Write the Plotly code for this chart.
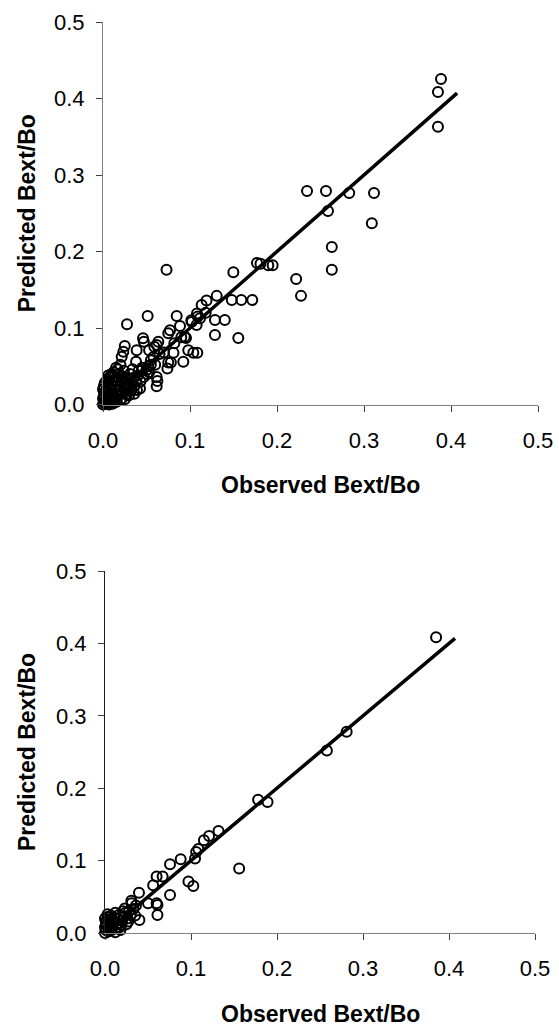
import plotly.graph_objects as go

# ---- Top panel: all observations ----
obs_top = [
    0.3885, 0.385, 0.385, 0.2345, 0.2563, 0.283, 0.3115, 0.2586, 0.309, 0.263, 0.263,
    0.222, 0.2276, 0.177, 0.181, 0.19, 0.195, 0.1498, 0.073,
    0.1307, 0.119, 0.1134, 0.148, 0.159, 0.1716, 0.1287, 0.140, 0.1287, 0.1555,
    0.102, 0.1076, 0.109, 0.0885, 0.0954, 0.077, 0.075, 0.098, 0.1038, 0.1084,
    0.0923, 0.081, 0.074, 0.075, 0.046, 0.047, 0.0617, 0.0636, 0.053, 0.0387,
    0.0617, 0.0617, 0.0625, 0.0425, 0.025, 0.0234, 0.0215, 0.038, 0.0276, 0.0513,
    0.0847, 0.059, 0.051, 0.108, 0.1015, 0.1115, 0.094,
    0.045, 0.055, 0.065, 0.070, 0.082, 0.090, 0.118, 0.078,
    0.0, 0.001, 0.002, 0.0, 0.001, 0.002, 0.0, 0.001, 0.002, 0.003, 0.004, 0.005,
    0.004, 0.005, 0.006, 0.007, 0.006, 0.008, 0.009, 0.010, 0.011, 0.009, 0.010,
    0.012, 0.012, 0.014, 0.015, 0.016, 0.014, 0.013, 0.016, 0.018, 0.019, 0.020,
    0.018, 0.021, 0.022, 0.023, 0.024, 0.025, 0.026, 0.024, 0.027, 0.028, 0.030,
    0.029, 0.031, 0.032, 0.033, 0.035, 0.034, 0.036, 0.038, 0.040, 0.041, 0.039,
    0.043, 0.045, 0.047, 0.050, 0.052, 0.055, 0.053, 0.058, 0.060, 0.015, 0.020,
    0.012, 0.008, 0.005, 0.003, 0.007, 0.011, 0.016, 0.020, 0.025, 0.030, 0.036,
    0.006, 0.010, 0.017, 0.022, 0.028, 0.033, 0.004, 0.009, 0.014,
]
pred_top = [
    0.4255, 0.4085, 0.363, 0.279, 0.279, 0.2765, 0.2765, 0.253, 0.237, 0.206, 0.176,
    0.164, 0.142, 0.185, 0.184, 0.182, 0.182, 0.173, 0.176,
    0.142, 0.136, 0.130, 0.1366, 0.1366, 0.1366, 0.1105, 0.1105, 0.091, 0.087,
    0.108, 0.104, 0.115, 0.1026, 0.087, 0.097, 0.093, 0.071, 0.0677, 0.0677,
    0.056, 0.0677, 0.047, 0.055, 0.0865, 0.082, 0.0778, 0.082, 0.071, 0.071,
    0.036, 0.024, 0.0307, 0.021, 0.0765, 0.069, 0.0625, 0.056, 0.105, 0.1157,
    0.1157, 0.0756, 0.040, 0.119, 0.110, 0.1127, 0.0886,
    0.045, 0.052, 0.066, 0.068, 0.080, 0.088, 0.120, 0.055,
    0.0, 0.002, 0.005, 0.008, 0.012, 0.016, 0.020, 0.024, 0.028, 0.003, 0.008, 0.012,
    0.018, 0.022, 0.026, 0.030, 0.004, 0.007, 0.002, 0.010, 0.015, 0.020, 0.025,
    0.032, 0.005, 0.009, 0.014, 0.019, 0.024, 0.036, 0.030, 0.012, 0.018, 0.024,
    0.040, 0.031, 0.008, 0.016, 0.021, 0.027, 0.035, 0.044, 0.013, 0.020, 0.025,
    0.032, 0.040, 0.018, 0.028, 0.035, 0.046, 0.024, 0.030, 0.038, 0.044, 0.019,
    0.030, 0.048, 0.036, 0.045, 0.050, 0.058, 0.042, 0.062, 0.052, 0.048, 0.052,
    0.042, 0.036, 0.033, 0.001, 0.000, 0.001, 0.004, 0.006, 0.007, 0.012, 0.014,
    0.038, 0.040, 0.046, 0.037, 0.022, 0.020, 0.015, 0.018, 0.003,
]

# ---- Bottom panel: subset ----
obs_bot = [
    0.385, 0.281, 0.258, 0.178, 0.189, 0.132, 0.121, 0.115, 0.1085, 0.106, 0.1047,
    0.156, 0.088, 0.0756, 0.097, 0.1027, 0.0756, 0.060, 0.067, 0.056, 0.061, 0.061,
    0.0395, 0.050, 0.040, 0.031, 0.023, 0.0306, 0.060,
    0.0, 0.001, 0.0, 0.002, 0.001, 0.0, 0.003, 0.004, 0.005, 0.006, 0.005, 0.007,
    0.008, 0.009, 0.010, 0.011, 0.012, 0.013, 0.014, 0.015, 0.016, 0.018, 0.019,
    0.020, 0.022, 0.024, 0.026, 0.028, 0.030, 0.033, 0.036, 0.035, 0.025, 0.012,
    0.008, 0.003, 0.017, 0.021, 0.027,
]
pred_bot = [
    0.4085, 0.278, 0.252, 0.184, 0.181, 0.141, 0.134, 0.128, 0.116, 0.112, 0.103,
    0.089, 0.102, 0.095, 0.071, 0.065, 0.0525, 0.078, 0.078, 0.066, 0.0387, 0.025,
    0.0557, 0.041, 0.018, 0.041, 0.034, 0.0446, 0.041,
    0.0, 0.004, 0.008, 0.012, 0.016, 0.020, 0.022, 0.002, 0.007, 0.013, 0.018, 0.024,
    0.004, 0.010, 0.016, 0.021, 0.001, 0.007, 0.013, 0.019, 0.025, 0.004, 0.011,
    0.017, 0.023, 0.028, 0.020, 0.030, 0.026, 0.033, 0.038, 0.024, 0.012, 0.028,
    0.020, 0.026, 0.008, 0.030, 0.016,
]

line_x = [0.0, 0.407]
line_y = [0.0, 0.407]

tick_vals = [0.0, 0.1, 0.2, 0.3, 0.4, 0.5]
tick_text = ["0.0", "0.1", "0.2", "0.3", "0.4", "0.5"]

x_title = "Observed Bext/Bo"
y_title = "Predicted Bext/Bo"

FONT = "Liberation Sans, Arial, sans-serif"
W, H = 559, 1026

fig = go.Figure()

marker = dict(symbol="circle-open", size=10, color="black", line=dict(width=2, color="black"))

fig.add_trace(go.Scatter(x=obs_top, y=pred_top, mode="markers", marker=marker,
                         xaxis="x", yaxis="y", cliponaxis=False, showlegend=False))
fig.add_trace(go.Scatter(x=line_x, y=line_y, mode="lines", line=dict(color="black", width=3.5),
                         xaxis="x", yaxis="y", cliponaxis=False, showlegend=False))
fig.add_trace(go.Scatter(x=obs_bot, y=pred_bot, mode="markers", marker=marker,
                         xaxis="x2", yaxis="y2", cliponaxis=False, showlegend=False))
fig.add_trace(go.Scatter(x=line_x, y=line_y, mode="lines", line=dict(color="black", width=3.5),
                         xaxis="x2", yaxis="y2", cliponaxis=False, showlegend=False))

def px_x(p):
    return p / W

def px_y(p):
    return 1 - p / H

axis_common = dict(range=[0, 0.5], tickvals=tick_vals, ticktext=tick_text,
                   showgrid=False, zeroline=False, showline=True, ticks="outside",
                   ticklen=6, tickwidth=1, tickcolor="#404040", automargin=False,
                   ticklabeloverflow="allow",
                   tickfont=dict(family=FONT, size=22, color="black"), fixedrange=True)

top_x = [103, 538]
top_y = [22, 404.5]
bot_x = [105, 535]
bot_y = [571, 933]

fig.update_layout(
    width=W, height=H,
    margin=dict(l=0, r=0, t=0, b=0, pad=0),
    paper_bgcolor="white", plot_bgcolor="white",
    showlegend=False,
    xaxis=dict(domain=[px_x(top_x[0]), px_x(top_x[1])], anchor="y",
               linecolor="#808080", ticklabelstandoff=10, **axis_common),
    yaxis=dict(domain=[px_y(top_y[1]), px_y(top_y[0])], anchor="x",
               linecolor="#808080", ticklabelstandoff=7, **axis_common),
    xaxis2=dict(domain=[px_x(bot_x[0]), px_x(bot_x[1])], anchor="y2",
                linecolor="#808080", ticklabelstandoff=10, **axis_common),
    yaxis2=dict(domain=[px_y(bot_y[1]), px_y(bot_y[0])], anchor="x2",
                linecolor="#202020", ticklabelstandoff=7, **axis_common),
    annotations=[
        dict(text="<b>" + x_title + "</b>", xref="paper", yref="paper",
             x=px_x((top_x[0] + top_x[1]) / 2), y=px_y(485), showarrow=False,
             xanchor="center", yanchor="middle", font=dict(family=FONT, size=23, color="black")),
        dict(text="<b>" + y_title + "</b>", xref="paper", yref="paper",
             x=px_x(27), y=px_y((top_y[0] + top_y[1]) / 2), showarrow=False, textangle=-90,
             xanchor="center", yanchor="middle", font=dict(family=FONT, size=23, color="black")),
        dict(text="<b>" + x_title + "</b>", xref="paper", yref="paper",
             x=px_x((bot_x[0] + bot_x[1]) / 2), y=px_y(1014), showarrow=False,
             xanchor="center", yanchor="middle", font=dict(family=FONT, size=23, color="black")),
        dict(text="<b>" + y_title + "</b>", xref="paper", yref="paper",
             x=px_x(27), y=px_y((bot_y[0] + bot_y[1]) / 2), showarrow=False, textangle=-90,
             xanchor="center", yanchor="middle", font=dict(family=FONT, size=23, color="black")),
    ],
)

reset_page = (
    "document.body.style.margin='0';"
    "document.body.style.padding='0';"
    "document.body.style.overflow='hidden';"
    "document.documentElement.style.overflow='hidden';"
)

fig.write_html("out.html", post_script=reset_page,
               config={"displayModeBar": False, "staticPlot": True})
